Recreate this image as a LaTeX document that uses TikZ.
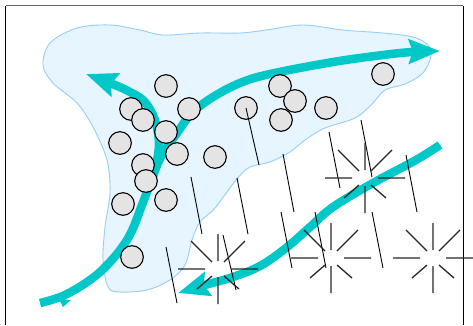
\documentclass[tikz,border=0pt]{standalone}
\usetikzlibrary{arrows.meta}
\definecolor{flowcyan}{RGB}{0,200,200}
\definecolor{zonefill}{RGB}{230,245,255}
\definecolor{zoneline}{RGB}{150,205,250}
\definecolor{grainfill}{RGB}{228,228,228}
\tikzset{
  grain/.style={circle, draw=black, line width=1.1pt, fill=grainfill,
                minimum size=22.6pt, inner sep=0pt},
  flow/.style={draw=flowcyan, line width=8.5pt, line cap=butt,
               -{Stealth[length=31pt, width=24pt, inset=4pt, fill=flowcyan]}},
  hair/.style={draw=black, line width=0.9pt},
  ray/.style={draw=black!85, line width=1.3pt},
  sparkburst/.pic={
    \draw[ray] (13,0)--(40,0) (-13,0)--(-40,0)
               (0,-8)--(0,-35) (0,8)--(0,35)
               (6,-7)--(27,-28) (-6,-7)--(-27,-28)
               (6,7)--(21,20) (-6,7)--(-21,20);
  }
}
\begin{document}
\begin{tikzpicture}[x=1pt, y=-1pt]
  \useasboundingbox (0,0) rectangle (473,325);

  % frame, open at the bottom
  \draw[black!60, line width=1.3pt] (5.5,5.5) -- (463,5.5);
  \draw[black, line width=1pt] (5.5,325) -- (5.5,5.5);
  \draw[black, line width=1pt] (463,5.5) -- (463,325);

  % pale zone
  \draw[zoneline, fill=zonefill, line width=0.9pt] plot[smooth cycle, tension=0.55] coordinates {
    (43,65) (50,43) (77,28) (110,25) (140,30) (163,35) (200,33) (240,33)
    (266,30) (303,25) (343,30) (383,33) (413,37) (428,45) (431,56) (423,73)
    (405,84) (385,90) (372,104) (355,118) (325,128) (305,140) (290,152)
    (270,162) (250,167) (236,180) (215,208) (200,222) (192,240) (185,265)
    (170,280) (147,290) (120,292) (108,287) (103,260) (105,227) (110,193)
    (107,160) (93,127) (77,103) (53,83)};

  % flow arrows
  \path[flow] plot[smooth, tension=0.6] coordinates {
    (40,303) (67,294) (100,272) (127,240) (142,205) (152,178) (162,155)
    (177,133) (192,113) (213,97) (240,83) (270,74) (333,62) (383,55)
    (412,52) (440,51)};
  \path[flow] plot[smooth, tension=0.6] coordinates {
    (150,185) (156,165) (159,145) (157,128) (152,113) (143,100) (130,92)
    (115,85) (86,74)};
  \path[flow] plot[smooth, tension=0.6] coordinates {
    (440,145) (416,160) (373,183) (333,207) (310,227) (286,248) (260,266)
    (233,277) (205,285) (178,293)};
  % barb near the tail of the long arrow
  \fill[flowcyan] (59,299) -- (63,307) -- (71,300) -- cycle;

  % grains
  \node[grain] (c1)  at (166,86)  {};
  \node[grain] (c2)  at (131,109) {};
  \node[grain] (c3)  at (143,120) {};
  \node[grain] (c4)  at (189,109) {};
  \node[grain] (c5)  at (120,143) {};
  \node[grain] (c6)  at (166,132) {};
  \node[grain] (c7)  at (177,154) {};
  \node[grain] (c8)  at (143,165) {};
  \node[grain] (c9)  at (146,181) {};
  \node[grain] (c10) at (215,157) {};
  \node[grain] (c11) at (123,204) {};
  \node[grain] (c12) at (166,200) {};
  \node[grain] (c13) at (132,257) {};
  \node[grain] (c14) at (246,108) {};
  \node[grain] (c15) at (280,86)  {};
  \node[grain] (c16) at (281,120) {};
  \node[grain] (c17) at (295,101) {};
  \node[grain] (c18) at (326,108) {};
  \node[grain] (c19) at (383,74)  {};

  % thin tilted strokes
  \draw[hair] (c14.center) -- (259,165);
  \draw[hair] (283,154) -- (294,212);
  \draw[hair] (329,132) -- (340,188);
  \draw[hair] (361,120) -- (372,177);
  \draw[hair] (406,155) -- (417,212);
  \draw[hair] (191,177) -- (202,234);
  \draw[hair] (237,178) -- (248,234);
  \draw[hair] (166,247) -- (177,303);
  \draw[hair] (223,235) -- (236,290);
  \draw[hair] (281,212) -- (292,268);
  \draw[hair] (315,212) -- (326,268);
  \draw[hair] (372,212) -- (383,268);

  % bursts
  \pic at (218,269) {sparkburst};
  \pic at (331,258) {sparkburst};
  \pic at (433,258) {sparkburst};
  \pic at (365,178) {sparkburst};
\end{tikzpicture}
\end{document}
